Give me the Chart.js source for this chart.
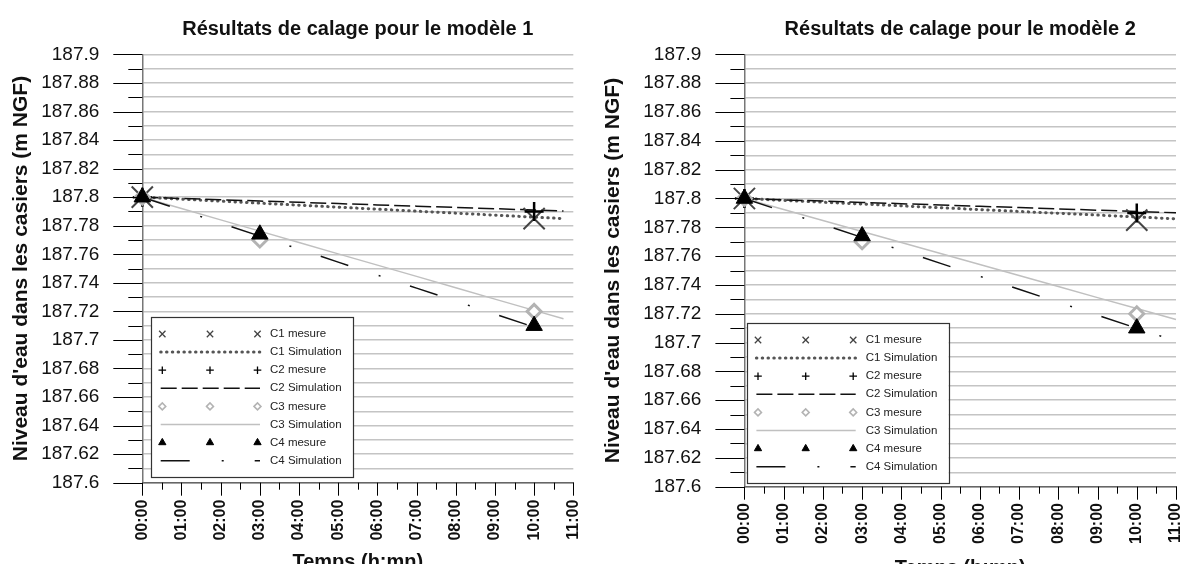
<!DOCTYPE html>
<html><head><meta charset="utf-8">
<script src="https://cdn.jsdelivr.net/npm/chart.js@4/dist/chart.umd.min.js"></script>
<style>
html,body{margin:0;padding:0;background:#fff;overflow:hidden;width:1184px;height:564px;position:relative;}
#c1{position:absolute;left:0;top:0;}
#c2{position:absolute;left:592px;top:0;}
</style></head><body>
<canvas id="c1" width="592" height="580"></canvas>
<canvas id="c2" width="620" height="580"></canvas>
<script>
const FONT = "'Liberation Sans', Arial, Helvetica, sans-serif";

// ---- text ----
const chartTitles = ['Résultats de calage pour le modèle 1', 'Résultats de calage pour le modèle 2'];
const yTitle = "Niveau d'eau dans les casiers (m NGF)";
const xTitle = 'Temps (h:mn)';
const seriesLabels = ['C1 mesure', 'C1 Simulation', 'C2 mesure', 'C2 Simulation', 'C3 mesure', 'C3 Simulation', 'C4 mesure', 'C4 Simulation'];

// ---- tick labels ----
const xTickLabels = ['00:00','01:00','02:00','03:00','04:00','05:00','06:00','07:00','08:00','09:00','10:00','11:00'];
const yTickLabels = ['187.6','','187.62','','187.64','','187.66','','187.68','','187.7','','187.72','','187.74','','187.76','','187.78','','187.8','','187.82','','187.84','','187.86','','187.88','','187.9'];
const yMin = 187.6, yMax = 187.9, yMinorStep = 0.01;
const xMin = 0, xMax = 11, xMinorStep = 0.5;

// ---- measured values (hours, m NGF) ----
const c1MesTimes = [0, 10];
const c1MesValues = [187.8, 187.785];
const c2MesTimes = [0, 10];
const c2MesValues = [187.8, 187.79];
const c3MesTimes = [0, 3, 10];
const c3MesValues = [187.8, 187.77, 187.72];
const c4MesTimes = [0, 3, 10];
const c4MesValues = [187.8, 187.774, 187.71];

// ---- model 1 simulations ----
const m1SimTimes = [0, 1, 2, 3, 4, 5, 6, 7, 8, 9, 10, 10.75];
const m1C1Sim = [187.8, 187.7986, 187.7972, 187.7958, 187.7944, 187.7930, 187.7916, 187.7902, 187.7888, 187.7874, 187.7860, 187.7850];
const m1C2Sim = [187.8, 187.7991, 187.7982, 187.7973, 187.7964, 187.7955, 187.7946, 187.7937, 187.7928, 187.7919, 187.7910, 187.7903];
const m1C3Sim = [187.8, 187.7921, 187.7841, 187.7762, 187.7683, 187.7603, 187.7524, 187.7445, 187.7366, 187.7286, 187.7207, 187.7148];
const m1C4SimTimes = [0, 1, 2, 3, 4, 5, 6, 7, 8, 9, 10];
const m1C4Sim = [187.8, 187.7909, 187.7818, 187.7727, 187.7636, 187.7545, 187.7454, 187.7363, 187.7272, 187.7181, 187.7090];

// ---- model 2 simulations ----
const m2SimTimes = [0, 1, 2, 3, 4, 5, 6, 7, 8, 9, 10, 11];
const m2C1Sim = [187.8, 187.7987, 187.7974, 187.7962, 187.7949, 187.7936, 187.7923, 187.7910, 187.7898, 187.7885, 187.7872, 187.7859];
const m2C2Sim = [187.8, 187.7991, 187.7982, 187.7973, 187.7964, 187.7955, 187.7946, 187.7937, 187.7928, 187.7919, 187.7910, 187.7901];
const m2C3Sim = [187.8, 187.7924, 187.7847, 187.7771, 187.7694, 187.7618, 187.7542, 187.7465, 187.7389, 187.7312, 187.7236, 187.7160];
const m2C4SimTimes = [0, 1, 2, 3, 4, 5, 6, 7, 8, 9, 10, 11];
const m2C4Sim = [187.8, 187.7910, 187.7820, 187.7730, 187.7640, 187.7550, 187.7460, 187.7370, 187.7280, 187.7190, 187.7100, 187.7010];

const pts = (xs, ys) => xs.map((x, i) => ({x: x, y: ys[i]}));

function buildDatasets(sim) {
  const mes = (label, data, style, r, color, fill, bw, order, lr) => ({
    label, data, showLine: false, pointStyle: style, pointRadius: r, pointHoverRadius: r,
    pointBorderColor: color, pointBackgroundColor: fill, pointBorderWidth: bw,
    borderColor: color, backgroundColor: fill, order, clip: false, kind: 'mes', legendR: lr
  });
  const line = (label, data, color, w, dash, cap, order) => ({
    label, data, borderColor: color, backgroundColor: color, borderWidth: w, borderDash: dash,
    borderCapStyle: cap, pointRadius: 0, pointHoverRadius: 0, order, clip: false, kind: 'sim', tension: 0
  });
  return [
    mes(seriesLabels[0], pts(c1MesTimes, c1MesValues), 'crossRot', 15, '#444', '#444', 2, 3, 4.5),
    line(seriesLabels[1], pts(sim.t, sim.c1), '#555', 3, [0.5, 5.3], 'round', 7),
    mes(seriesLabels[2], pts(c2MesTimes, c2MesValues), 'cross', 9.5, '#000', '#000', 2.5, 2, 3.8),
    line(seriesLabels[3], pts(sim.t, sim.c2), '#111', 1.5, [16, 5], 'butt', 6),
    mes(seriesLabels[4], pts(c3MesTimes, c3MesValues), 'rectRot', 7, '#b3b3b3', '#ffffff', 3, 1, 3.5),
    line(seriesLabels[5], pts(sim.t, sim.c3), '#c0c0c0', 1.5, [], 'butt', 5),
    mes(seriesLabels[6], pts(c4MesTimes, c4MesValues), 'triangle', 9.5, '#000', '#000', 1, 0, 4.2),
    line(seriesLabels[7], pts(sim.t4, sim.c4), '#111', 1.5, [29, 32, 2, 31], 'butt', 4)
  ];
}

function drawMark(ctx, style, x, y, r, stroke, fill, lw) {
  ctx.save();
  ctx.strokeStyle = stroke; ctx.fillStyle = fill; ctx.lineWidth = lw;
  ctx.beginPath();
  if (style === 'crossRot') {
    const d = r * Math.SQRT1_2;
    ctx.moveTo(x - d, y - d); ctx.lineTo(x + d, y + d);
    ctx.moveTo(x - d, y + d); ctx.lineTo(x + d, y - d);
    ctx.stroke();
  } else if (style === 'cross') {
    ctx.moveTo(x, y - r); ctx.lineTo(x, y + r);
    ctx.moveTo(x - r, y); ctx.lineTo(x + r, y);
    ctx.stroke();
  } else if (style === 'rectRot') {
    ctx.moveTo(x - r, y); ctx.lineTo(x, y - r); ctx.lineTo(x + r, y); ctx.lineTo(x, y + r);
    ctx.closePath(); ctx.fill(); ctx.stroke();
  } else {
    ctx.moveTo(x, y - r); ctx.lineTo(x + r * 0.866, y + r / 2); ctx.lineTo(x - r * 0.866, y + r / 2);
    ctx.closePath(); ctx.fill(); ctx.stroke();
  }
  ctx.restore();
}

const axisTicks = {
  id: 'axisTicks',
  afterDatasetsDraw(chart) {
    const ctx = chart.ctx, xs = chart.scales.x, ys = chart.scales.y, ca = chart.chartArea;
    ctx.save();
    ctx.strokeStyle = '#000'; ctx.lineWidth = 1;
    ctx.beginPath();
    ys.ticks.forEach(t => {
      const py = Math.round(ys.getPixelForValue(t.value)) + 0.5;
      const len = t.label ? 29 : 14;
      ctx.moveTo(ca.left - len, py); ctx.lineTo(ca.left, py);
    });
    const n = Math.round((xMax - xMin) / xMinorStep);
    for (let i = 0; i <= n; i++) {
      const v = xMin + i * xMinorStep;
      const px = Math.round(xs.getPixelForValue(v)) + 0.5;
      const len = (i % 2 === 0) ? 13 : 7;
      ctx.moveTo(px, ca.bottom); ctx.lineTo(px, ca.bottom + len);
    }
    ctx.stroke();
    ctx.restore();
  }
};

const boxLegend = {
  id: 'boxLegend',
  afterDatasetsDraw(chart, args, opts) {
    const ctx = chart.ctx, ca = chart.chartArea;
    const w = 202, h = 160, rowH = 18.1, firstRow = 17.3;
    const left = ca.left + opts.dx, top = ca.bottom - opts.bottomGap - h;
    ctx.save();
    ctx.fillStyle = '#fff';
    ctx.fillRect(left, top, w, h);
    ctx.strokeStyle = '#333'; ctx.lineWidth = 1.2;
    ctx.strokeRect(Math.round(left) + 0.5, Math.round(top) + 0.5, w, h);
    chart.data.datasets.forEach((ds, i) => {
      const y = top + firstRow + i * rowH;
      if (ds.kind === 'mes') {
        [11.3, 59, 106.5].forEach(dx => drawMark(ctx, ds.pointStyle, left + dx, y, ds.legendR,
          ds.pointBorderColor, ds.pointBackgroundColor, ds.pointStyle === 'rectRot' ? 1.5 : (ds.pointStyle === 'triangle' ? 1 : 1.3)));
      } else {
        ctx.save();
        ctx.strokeStyle = ds.borderColor; ctx.lineWidth = ds.borderWidth;
        ctx.setLineDash(ds.borderDash || []); ctx.lineCap = ds.borderCapStyle || 'butt';
        ctx.beginPath(); ctx.moveTo(left + 9.7, y); ctx.lineTo(left + 109, y); ctx.stroke();
        ctx.restore();
      }
      ctx.fillStyle = '#222';
      ctx.font = '11.5px ' + FONT;
      ctx.textAlign = 'left'; ctx.textBaseline = 'middle';
      ctx.fillText(ds.label, left + 119, y);
    });
    ctx.restore();
  }
};

function makeChart(id, title, sim, geo) {
  return new Chart(document.getElementById(id), {
    type: 'line',
    data: { datasets: buildDatasets(sim) },
    plugins: [axisTicks, boxLegend],
    options: {
      responsive: false, animation: false, devicePixelRatio: 1,
      layout: { autoPadding: false, padding: { left: 0, right: geo.rightPad, top: 0, bottom: 0 } },
      plugins: {
        legend: { display: false },
        tooltip: { enabled: false },
        title: { display: true, text: title, fullSize: false, color: '#111',
          font: { family: FONT, size: 20, weight: 'bold' }, padding: { top: 12.5, bottom: 12.8 } },
        boxLegend: { dx: geo.legendDx, bottomGap: geo.legendGap }
      },
      scales: {
        x: {
          type: 'linear', min: xMin, max: xMax,
          afterFit: s => { s.height = geo.xAxisH; s.paddingLeft = 0; s.paddingRight = 0; },
          ticks: { stepSize: 1, autoSkip: false, minRotation: 90, maxRotation: 90, padding: geo.xPad, color: '#111',
            font: { family: FONT, size: 16, weight: 'bold' },
            callback: v => xTickLabels[Math.round(v)] ?? '' },
          grid: { display: false, drawTicks: false },
          border: { display: true, color: '#666', width: 1.5 },
          title: { display: true, text: xTitle, color: '#111', font: { family: FONT, size: 20, weight: 'bold' },
            padding: { top: 0, bottom: geo.xTitlePad } }
        },
        y: {
          type: 'linear', min: yMin, max: yMax,
          afterFit: s => { s.width = geo.yAxisW; },
          ticks: { stepSize: yMinorStep, autoSkip: false, padding: 43, color: '#111',
            font: { family: FONT, size: 19 },
            callback: v => yTickLabels[Math.round((v - yMin) / yMinorStep)] ?? '' },
          grid: { color: '#c4c4c4', lineWidth: 1.5, drawTicks: false },
          border: { display: true, color: '#777', width: 1.5 },
          title: { display: true, text: yTitle, color: '#111', font: { family: FONT, size: 21, weight: 'bold' },
            padding: { top: 8.4, bottom: 0 } }
        }
      }
    }
  });
}

makeChart('c1', chartTitles[0],
  { t: m1SimTimes, c1: m1C1Sim, c2: m1C2Sim, c3: m1C3Sim, t4: m1C4SimTimes, c4: m1C4Sim },
  { yAxisW: 142.3, rightPad: 18.7, xAxisH: 97.3, xPad: 17, xTitlePad: 6, legendDx: 8.7, legendGap: 6 });
makeChart('c2', chartTitles[1],
  { t: m2SimTimes, c1: m2C1Sim, c2: m2C2Sim, c3: m2C3Sim, t4: m2C4SimTimes, c4: m2C4Sim },
  { yAxisW: 152.4, rightPad: 36, xAxisH: 93.3, xPad: 16.3, xTitlePad: 0, legendDx: 2.3, legendGap: 4 });
</script>
</body></html>
